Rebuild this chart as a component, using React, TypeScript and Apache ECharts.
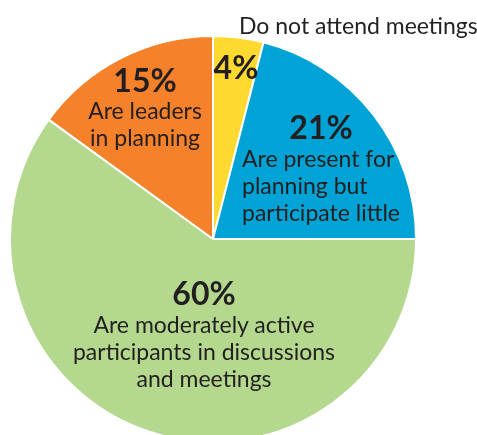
import React, { useEffect, useRef } from "react";
import * as echarts from "echarts";

const categories = [
  "Do not attend meetings",
  "Are present for planning but participate little",
  "Are moderately active participants in discussions and meetings",
  "Are leaders in planning",
];
const values = [4, 21, 60, 15];
const labelLines = [
  [],
  ["Are present for", "planning but", "participate little"],
  ["Are moderately active", "participants in discussions", "and meetings"],
  ["Are leaders", "in planning"],
];
const colors = ["#FED930", "#00A3D5", "#B4D88D", "#F5812A"];
const labelPos = [
  { x: 236, y: 66, align: "center" },
  { x: 321, y: 167, align: "center" },
  { x: 204, y: 333, align: "center" },
  { x: 145, y: 106, align: "center" },
];

const FONT = "Lato, 'Noto Sans', sans-serif";
const TXT = "#231F20";

export default function App() {
  const ref = useRef<HTMLDivElement>(null);
  useEffect(() => {
    const chart = echarts.init(ref.current!, null, { renderer: "svg" });
    chart.setOption({
      animation: false,
      title: {
        text: categories[0],
        left: 234,
        top: 8,
        textStyle: { fontFamily: FONT, fontSize: 23, fontWeight: "normal", color: TXT },
      },
      series: [
        {
          type: "pie",
          center: [213, 239],
          radius: [0, 203],
          startAngle: 90,
          clockwise: true,
          silent: true,
          itemStyle: { borderColor: "#ffffff", borderWidth: 2 },
          data: values.map((v, i) => ({
            value: v,
            name: categories[i],
            itemStyle: { color: colors[i] },
          })),
          label: {
            show: true,
            position: "inside",
            formatter: (p: any) => {
              const lines = labelLines[p.dataIndex];
              const parts = [`{p|${p.value}%}`].concat(lines.map((l: string) => `{t${p.dataIndex === 1 ? "l" : ""}|${l}}`));
              return parts.join("\n");
            },
            rich: {
              p: { fontFamily: FONT, fontSize: 32, fontWeight: "bold", color: TXT, lineHeight: 35, align: "center" },
              t: { fontFamily: FONT, fontSize: 23, color: TXT, lineHeight: 27, align: "center" },
              tl: { fontFamily: FONT, fontSize: 23, color: TXT, lineHeight: 27, align: "left" },
            },
          },
          labelLine: { show: false },
          labelLayout: (params: any) => {
            const lp = labelPos[params.dataIndex];
            return { x: lp.x, y: lp.y, align: lp.align, verticalAlign: "middle" };
          },
        },
      ],
    });
    return () => chart.dispose();
  }, []);
  return <div ref={ref} style={{ position: "fixed", left: 0, top: 0, width: 477, height: 435 }} />;
}
